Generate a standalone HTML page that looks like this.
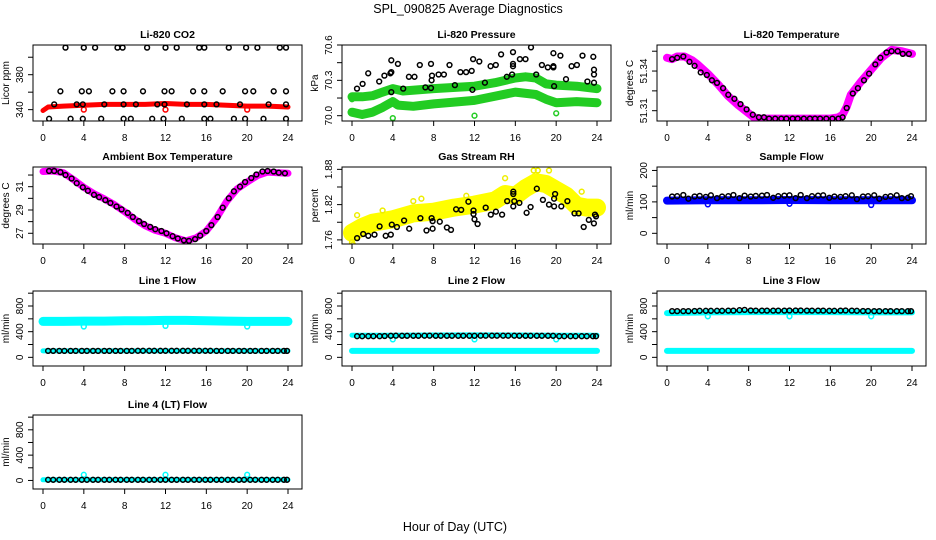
<!DOCTYPE html>
<html><head><meta charset="utf-8">
<style>
body{margin:0;background:#fff;}
svg{display:block;font-family:"Liberation Sans",Arial,sans-serif;}
</style></head>
<body>
<svg id="chart" width="936" height="540" viewBox="0 0 936 540" xmlns="http://www.w3.org/2000/svg">
<rect x="0" y="0" width="936" height="540" fill="#fff"/>
<text x="468" y="13" font-size="12.5" text-anchor="middle">SPL_090825  Average Diagnostics</text>
<text x="455" y="531" font-size="12.5" text-anchor="middle">Hour of Day (UTC)</text>
</svg>
<script>
// ---------- data ----------
const xTicks = [0,4,8,12,16,20,24];
const xTickLabels = ["0","4","8","12","16","20","24"];
const H44 = [0.5,1.0,1.6,2.1,2.7,3.2,3.8,4.3,4.9,5.4,6.0,6.5,7.1,7.6,8.2,8.7,9.3,9.8,10.4,10.9,11.5,12.0,12.6,13.1,13.7,14.2,14.8,15.3,15.9,16.4,17.0,17.5,18.1,18.6,19.2,19.7,20.3,20.8,21.4,21.9,22.5,23.0,23.6,23.9];

// CO2
const co2BandH = [0,0.5,2,4,6,8,10,12,14,16,18,20,22,24];
const co2BandV = [339,343,344,345,346,346,346,347,346,346,345,344,344,343];
const co2TopH = [2.2,4,5.1,7.3,7.8,10.2,12,13.1,15.3,15.8,18.2,19.9,21,23.2,23.8];
const co2TopV = [411,411,411,411,411,411,411,411,411,411,411,411,411,411,411];
const co2MidH = [1.7,3.8,4.5,6.8,7.9,9.8,11.9,12.6,14.7,15.8,17.6,19.8,20.6,22.6,23.8];
const co2MidV = [361,361,361,361,361,361,361,361,361,361,361,361,361,361,361];
const co2LineH = [1.1,3.3,3.9,6,7.9,9.1,11.2,11.9,14.1,15.8,17,19.3,22.1,23.8];
const co2LineV = [346,346,346,346,346,346,346,346,346,346,346,346,346,346];
const co2LowH = [0.6,2.7,3.9,5.7,7.9,8.6,10.7,11.8,13.6,15.8,16.4,18.7,19.8,21.6,23.8];
const co2LowV = [329.5,329.5,329.5,329.5,329.5,329.5,329.5,329.5,329.5,329.5,329.5,329.5,329.5,329.5,329.5];
const co2OutH = [4,12,20];
const co2OutV = [340,340,340];

// Pressure
const pUpH = [0,1,2,3,4,5,8,12,14,16,17,18,19,20,22,24];
const pUpV = [70.16,70.16,70.17,70.2,70.23,70.21,70.23,70.25,70.28,70.32,70.33,70.32,70.27,70.26,70.25,70.23];
const pLoH = [0,1,2,3,4,4.5,6,8,12,16,18,19,20,22,24];
const pLoV = [70.03,70.01,70.03,70.07,70.12,70.09,70.08,70.1,70.13,70.2,70.18,70.14,70.11,70.12,70.11];
const pGrnH = [0,4,12,20];
const pGrnV = [70.14,69.98,70.0,70.02];
const pBlkH = [0.49,1.04,1.59,2.66,3.17,3.76,3.85,3.85,3.85,4.5,5.02,5.57,6.12,6.64,7.19,7.74,7.84,7.8,7.74,8.48,9.0,9.55,10.08,10.62,11.18,11.73,11.79,11.86,12.47,13.02,13.58,14.09,14.61,15.16,15.68,15.77,15.77,15.77,16.45,17.0,17.53,18.04,18.6,19.18,19.73,19.73,19.8,19.73,20.41,20.96,21.51,22.03,22.58,23.06,23.64,23.71,23.71,23.71];
const pBlkV = [70.23,70.27,70.36,70.29,70.34,70.36,70.37,70.47,70.20,70.44,70.23,70.33,70.33,70.43,70.24,70.44,70.34,70.30,70.235,70.35,70.35,70.43,70.26,70.37,70.37,70.38,70.22,70.48,70.46,70.28,70.42,70.43,70.52,70.33,70.35,70.54,70.44,70.42,70.48,70.48,70.58,70.35,70.43,70.41,70.41,70.42,70.25,70.53,70.51,70.31,70.42,70.43,70.51,70.29,70.50,70.39,70.35,70.28];

// Li-820 temperature
const tBandH = [0,0.5,1,1.7,2.5,3,4,5,6,7,8,8.5,9,12,16,16.8,17.2,17.6,18,19,20,21,22,23,24];
const tBandV = [51.350,51.349,51.351,51.351,51.348,51.345,51.338,51.330,51.321,51.314,51.308,51.305,51.304,51.304,51.304,51.305,51.307,51.313,51.322,51.332,51.341,51.350,51.356,51.355,51.353];
const tPtH = [0.5,1,1.6,2.2,2.7,3.3,3.9,4.4,4.9,5.5,6,6.6,7.2,7.8,8.4,9,9.5,10,10.6,11.2,11.7,12.3,12.8,13.4,14,14.5,15,15.6,16.2,16.8,17.2,17.6,18.2,18.7,19.3,19.8,20.4,20.9,21.5,22,22.6,23.1,23.7];
const tPtV = [51.349,51.350,51.351,51.347,51.344,51.339,51.337,51.333,51.331,51.327,51.322,51.319,51.315,51.311,51.307,51.305,51.305,51.304,51.304,51.304,51.304,51.304,51.304,51.304,51.304,51.304,51.304,51.304,51.304,51.304,51.305,51.312,51.323,51.327,51.333,51.338,51.345,51.350,51.354,51.355,51.355,51.353,51.353];

// Ambient box temperature
const aBandH = [0,1,2,3,4,5,6,7,8,9,10,11,12,13,14,15,16,17,18,19,20,21,22,23,24];
const aBandV = [32.3,32.35,32.2,31.6,30.95,30.4,29.95,29.45,28.85,28.2,27.65,27.25,27.0,26.6,26.35,26.6,27.2,28.3,29.75,30.8,31.4,31.95,32.25,32.2,32.15];
const aPtH = [0.6,1.1,1.7,2.2,2.8,3.3,3.9,4.4,5,5.5,6.1,6.6,7.2,7.7,8.3,8.8,9.4,9.9,10.5,11,11.6,12.1,12.7,13.2,13.8,14.3,14.9,15.4,16,16.5,17.1,17.6,18.2,18.7,19.3,19.8,20.4,20.9,21.5,22,22.6,23.1,23.7];
const aPtV = [32.35,32.35,32.25,32.0,31.7,31.3,30.95,30.65,30.3,30.1,29.85,29.6,29.3,29.05,28.75,28.4,28.05,27.8,27.55,27.35,27.2,27.0,26.75,26.55,26.4,26.35,26.5,26.8,27.2,27.7,28.4,29.2,30.0,30.6,31.0,31.4,31.75,32.05,32.3,32.35,32.3,32.2,32.15];

// Gas stream RH
const rhBandH = [0,1,2,4,6,8,10,12,14,15,16,17,18,19,20,21,22,23,24];
const rhBandV = [1.772,1.782,1.789,1.795,1.805,1.808,1.815,1.82,1.827,1.838,1.835,1.848,1.858,1.855,1.845,1.835,1.818,1.815,1.815];
const rhYelH = [0,0.1,0.5,3,6,6.8,11.2,15,17.8,18.2,19.3,22.5];
const rhYelV = [1.756,1.752,1.802,1.81,1.826,1.83,1.835,1.865,1.878,1.878,1.878,1.842];
const rhBlkH = [0.5,1.1,1.6,2.2,2.7,3.3,3.8,3.9,4.4,5.1,5.6,6.7,7.3,7.8,7.9,7.9,8.6,9.3,9.7,10.2,10.7,11.4,11.9,11.9,12,12.3,13.1,13.6,14.1,14.7,15.2,15.8,15.8,15.8,15.9,16.4,17.1,17.5,18.1,18.7,19.3,19.8,19.8,19.9,20.5,21.1,21.8,22.2,22.7,23.2,23.7,23.8,23.9];
const rhBlkV = [1.763,1.770,1.767,1.769,1.783,1.767,1.769,1.786,1.782,1.793,1.779,1.797,1.776,1.797,1.792,1.779,1.791,1.781,1.777,1.812,1.811,1.825,1.810,1.804,1.795,1.787,1.815,1.803,1.808,1.803,1.826,1.838,1.842,1.817,1.826,1.823,1.806,1.816,1.847,1.828,1.820,1.817,1.830,1.838,1.817,1.826,1.805,1.805,1.782,1.794,1.788,1.803,1.800];

// Sample flow
const sfBandH = [0,4,8,12,16,20,24];
const sfBandV = [104,105,105,106,105,105,105];
const sfOutH = [4,12,20];
const sfOutV = [92,94,90];
const sfBlkV = [117,118,122,110,117,119,116,121,112,117,118,122,112,120,117,119,120,122,113,118,120,121,112,122,112,118,120,121,113,117,116,118,121,109,117,118,121,110,116,118,121,112,113,118];

// Line flows
const l1CyanH = [0,2,4,6,8,10,12,14,16,18,20,22,24];
const l1CyanV = [560,560,565,565,570,570,575,575,570,565,560,560,560];
const l1LowH = [0,24];
const l1LowV = [100,100];
const l1OutH = [4,12,20];
const l1OutV = [480,490,480];
const l1BlkV = [100,100,100,100,100,100,100,100,100,100,100,100,100,100,100,100,102,102,102,102,102,102,102,102,102,102,102,102,102,102,101,101,101,101,101,101,101,101,100,100,100,100,100,100];

const l2CyanH = [0,24];
const l2CyanV = [100,100];
const l2HiH = [0,4,8,12,16,20,24];
const l2HiV = [345,345,348,350,348,345,345];
const l2OutH = [4,12,20];
const l2OutV = [280,280,280];
const l2BlkV = [330,330,330,330,330,333,335,338,335,335,335,335,338,338,335,335,335,335,335,335,335,335,338,338,338,338,338,338,338,335,335,335,335,335,335,335,330,330,330,330,330,330,330,330];

const l3CyanH = [0,24];
const l3CyanV = [100,100];
const l3HiH = [0,4,8,12,16,20,24];
const l3HiV = [690,700,705,705,705,700,700];
const l3OutH = [4,12,20];
const l3OutV = [640,640,640];
const l3BlkV = [720,720,720,720,722,725,725,725,725,725,728,728,735,740,730,728,728,728,728,728,728,730,730,730,728,728,728,728,725,725,728,730,728,725,722,722,720,720,720,720,720,720,720,720];

const l4CyanH = [0,24];
const l4CyanV = [10,10];
const l4OutH = [4,12,20];
const l4OutV = [90,90,90];
const l4BlkV = [10,10,10,10,10,10,10,10,10,10,10,10,10,10,10,10,10,10,10,10,10,10,10,10,10,10,10,10,10,10,10,10,10,10,10,10,10,10,10,10,10,10,10,10];

// ---------- drawing ----------
const NS = "http://www.w3.org/2000/svg";
const svg = document.getElementById("chart");
const colLeft = [33, 342, 657];
const rowTop = [45, 167, 291, 415];
const rowBot = [121, 244, 366, 489];
const W = 269;

function mk(tag, attrs, parent){
  const e = document.createElementNS(NS, tag);
  for (const k in attrs) e.setAttribute(k, attrs[k]);
  (parent || svg).appendChild(e);
  return e;
}

function panel(cfg){
  const L = colLeft[cfg.col], T = rowTop[cfg.row], B = rowBot[cfg.row], R = L + W;
  const g = mk("g", {});
  
  
  const xs = h => L + 10 + h * (245 / 24);
  const ys = v => B - (v - cfg.ymin) / (cfg.ymax - cfg.ymin) * (B - T);
  const clipId = "clip" + cfg.name;
  const cp = mk("clipPath", {id: clipId}, g);
  mk("rect", {x: L, y: T, width: W, height: B - T}, cp);
  const plot = mk("g", {"clip-path": "url(#" + clipId + ")"}, g);
  
  
  cfg.series.forEach(s => {
    if (s.type === "band") {
      const pts = s.h.map((h, i) => xs(h).toFixed(1) + "," + ys(s.v[i]).toFixed(1)).join(" ");
      const pl = mk("polyline", {points: pts, fill: "none", stroke: s.color, "stroke-width": s.w, "stroke-linejoin": "round", "stroke-linecap": "round"}, plot);
      
      
    } else {
      const sg = mk("g", {}, plot);
      
      
      s.h.forEach((h, i) => {
        const c = mk("circle", {cx: xs(h).toFixed(1), cy: ys(s.v[i]).toFixed(1), r: 2.4, fill: "none", stroke: s.color, "stroke-width": 1.5}, sg);
        
        
      });
    }
  });
  const box = mk("rect", {x: L, y: T, width: W, height: B - T, fill: "none", stroke: "#000", "stroke-width": 1}, g);
  
  
  const xa = mk("g", {}, g);
  
  
  mk("line", {x1: xs(xTicks[0]), x2: xs(xTicks[xTicks.length - 1]), y1: B, y2: B, stroke: "#000"}, xa);
  xTicks.forEach((t, i) => {
    mk("line", {x1: xs(t), x2: xs(t), y1: B, y2: B + 5, stroke: "#000"}, xa);
    const tx = mk("text", {x: xs(t), y: B + 20, "font-size": 10, "text-anchor": "middle"}, xa);
    tx.textContent = xTickLabels[i];
    
    
  });
  const ya = mk("g", {}, g);
  
  
  mk("line", {x1: L, x2: L, y1: ys(cfg.ticks[0]), y2: ys(cfg.ticks[cfg.ticks.length - 1]), stroke: "#000"}, ya);
  cfg.ticks.forEach((t, i) => {
    mk("line", {x1: L - 5, x2: L, y1: ys(t), y2: ys(t), stroke: "#000"}, ya);
    if (cfg.labels[i]) {
      const yy = ys(t), xx = L - 10;
      const tx = mk("text", {x: xx, y: yy, "font-size": 10, "text-anchor": "middle", transform: "rotate(-90 " + xx + " " + yy + ")"}, ya);
      tx.textContent = cfg.labels[i];
      
      
    }
  });
  const yl = L - 24, ym = (T + B) / 2;
  const ylab = mk("text", {x: yl, y: ym, "font-size": 10, "text-anchor": "middle", transform: "rotate(-90 " + yl + " " + ym + ")"}, g);
  ylab.textContent = cfg.ylab;
  
  
  const ti = mk("text", {x: L + W / 2, y: T - 7, "font-size": 10.5, "font-weight": "bold", "text-anchor": "middle"}, g);
  ti.textContent = cfg.title;
  
  
}

const flowTicks = [0,200,400,600,800,1000];
const flowLabels = ["0","","400","","800",""];

panel({name:"co2-panel", col:0,row:0,title:"Li-820 CO2",ylab:"Licor ppm",ymin:327,ymax:414,
  ticks:[340,360,380,400],labels:["340","","380",""],
  series:[
    {type:"band",name:"co2-band",h:co2BandH,v:co2BandV,color:"#ff0000",w:5},
    {type:"pts",name:"co2-outliers",h:co2OutH,v:co2OutV,color:"#ff0000"},
    {type:"pts",name:"co2-points-top",h:co2TopH,v:co2TopV,color:"#000"},
    {type:"pts",name:"co2-points-mid",h:co2MidH,v:co2MidV,color:"#000"},
    {type:"pts",name:"co2-points-line",h:co2LineH,v:co2LineV,color:"#000"},
    {type:"pts",name:"co2-points-low",h:co2LowH,v:co2LowV,color:"#000"}]});

panel({name:"pressure-panel", col:1,row:0,title:"Li-820 Pressure",ylab:"kPa",ymin:69.955,ymax:70.6,
  ticks:[70.0,70.15,70.3,70.45,70.6],labels:["70.0","","70.3","","70.6"],
  series:[
    {type:"band",name:"pressure-band-upper",h:pUpH,v:pUpV,color:"#22cc22",w:9},
    {type:"band",name:"pressure-band-lower",h:pLoH,v:pLoV,color:"#22cc22",w:9},
    {type:"pts",name:"pressure-green-outliers",h:pGrnH,v:pGrnV,color:"#22cc22"},
    {type:"pts",name:"pressure-points",h:pBlkH,v:pBlkV,color:"#000"}]});

panel({name:"temperature-panel", col:2,row:0,title:"Li-820 Temperature",ylab:"degrees C",ymin:51.3022,ymax:51.3597,
  ticks:[51.31,51.325,51.34,51.355],labels:["51.31","","51.34",""],
  series:[
    {type:"band",name:"temperature-band",h:tBandH,v:tBandV,color:"#ff00ff",w:8},
    {type:"pts",name:"temperature-points",h:tPtH,v:tPtV,color:"#000"}]});

panel({name:"ambient-panel", col:0,row:1,title:"Ambient Box Temperature",ylab:"degrees C",ymin:26.08,ymax:32.69,
  ticks:[27,28,29,30,31,32],labels:["27","","29","","31",""],
  series:[
    {type:"band",name:"ambient-band",h:aBandH,v:aBandV,color:"#ff00ff",w:7},
    {type:"pts",name:"ambient-points",h:aPtH,v:aPtV,color:"#000"}]});

panel({name:"rh-panel", col:1,row:1,title:"Gas Stream RH",ylab:"percent",ymin:1.753,ymax:1.884,
  ticks:[1.76,1.79,1.82,1.85,1.88],labels:["1.76","","1.82","","1.88"],
  series:[
    {type:"band",name:"rh-band",h:rhBandH,v:rhBandV,color:"#ffff00",w:18},
    {type:"pts",name:"rh-yellow-points",h:rhYelH,v:rhYelV,color:"#eeee00"},
    {type:"pts",name:"rh-points",h:rhBlkH,v:rhBlkV,color:"#000"}]});

panel({name:"sample-flow-panel", col:2,row:1,title:"Sample Flow",ylab:"ml/min",ymin:-34,ymax:211,
  ticks:[0,50,100,150,200],labels:["0","","100","","200"],
  series:[
    {type:"band",name:"sample-flow-band",h:sfBandH,v:sfBandV,color:"#0000ff",w:8},
    {type:"pts",name:"sample-flow-outliers",h:sfOutH,v:sfOutV,color:"#0000ff"},
    {type:"pts",name:"sample-flow-points",h:H44,v:sfBlkV,color:"#000"}]});

panel({name:"line1-flow-panel", col:0,row:2,title:"Line 1 Flow",ylab:"ml/min",ymin:-135,ymax:1034,
  ticks:flowTicks,labels:flowLabels,
  series:[
    {type:"band",name:"line1-cyan-band",h:l1CyanH,v:l1CyanV,color:"#00ffff",w:9},
    {type:"band",name:"line1-cyan-low",h:l1LowH,v:l1LowV,color:"#00ffff",w:5},
    {type:"pts",name:"line1-outliers",h:l1OutH,v:l1OutV,color:"#00ffff"},
    {type:"pts",name:"line1-points",h:H44,v:l1BlkV,color:"#000"}]});

panel({name:"line2-flow-panel", col:1,row:2,title:"Line 2 Flow",ylab:"ml/min",ymin:-135,ymax:1034,
  ticks:flowTicks,labels:flowLabels,
  series:[
    {type:"band",name:"line2-cyan-band",h:l2CyanH,v:l2CyanV,color:"#00ffff",w:6},
    {type:"band",name:"line2-cyan-high",h:l2HiH,v:l2HiV,color:"#00ffff",w:5},
    {type:"pts",name:"line2-outliers",h:l2OutH,v:l2OutV,color:"#00ffff"},
    {type:"pts",name:"line2-points",h:H44,v:l2BlkV,color:"#000"}]});

panel({name:"line3-flow-panel", col:2,row:2,title:"Line 3 Flow",ylab:"ml/min",ymin:-135,ymax:1034,
  ticks:flowTicks,labels:flowLabels,
  series:[
    {type:"band",name:"line3-cyan-band",h:l3CyanH,v:l3CyanV,color:"#00ffff",w:6},
    {type:"band",name:"line3-cyan-high",h:l3HiH,v:l3HiV,color:"#00ffff",w:6},
    {type:"pts",name:"line3-outliers",h:l3OutH,v:l3OutV,color:"#00ffff"},
    {type:"pts",name:"line3-points",h:H44,v:l3BlkV,color:"#000"}]});

panel({name:"line4-flow-panel", col:0,row:3,title:"Line 4 (LT) Flow",ylab:"ml/min",ymin:-135,ymax:1034,
  ticks:flowTicks,labels:flowLabels,
  series:[
    {type:"band",name:"line4-cyan-band",h:l4CyanH,v:l4CyanV,color:"#00ffff",w:5},
    {type:"pts",name:"line4-outliers",h:l4OutH,v:l4OutV,color:"#00ffff"},
    {type:"pts",name:"line4-points",h:H44,v:l4BlkV,color:"#000"}]});
</script>
</body></html>
